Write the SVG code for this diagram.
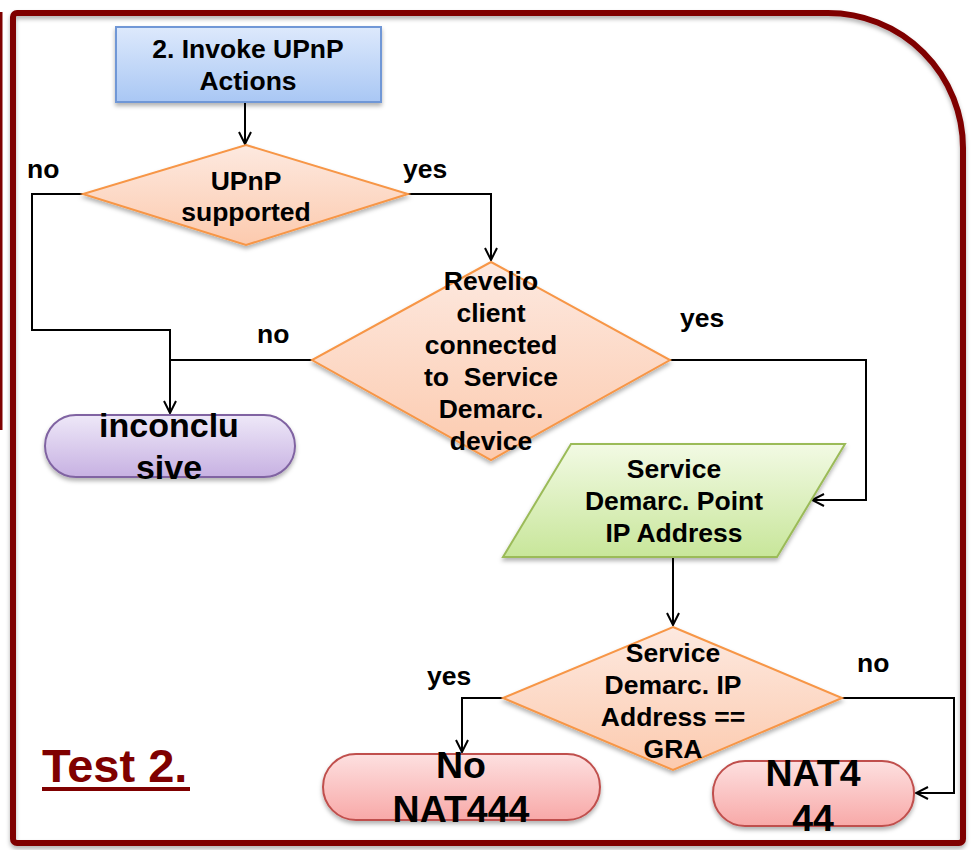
<svg xmlns="http://www.w3.org/2000/svg" width="974" height="850" viewBox="0 0 974 850">
<defs>
<style>
.t{font-family:"Liberation Sans",Arial,Helvetica,sans-serif;font-weight:bold;fill:#000;}
.s26{font-size:26.5px;}
.big{font-size:37.5px;}
.c{text-anchor:middle;}
.conn{fill:none;stroke:#000;stroke-width:2;}
.dia{fill:url(#gOrange);stroke:#f79646;stroke-width:2;}
</style>
<linearGradient id="gBlue" x1="0" y1="0" x2="0" y2="1"><stop offset="0" stop-color="#dde9fc"/><stop offset="1" stop-color="#a9c7f4"/></linearGradient>
<linearGradient id="gOrange" x1="0" y1="0" x2="0" y2="1"><stop offset="0" stop-color="#fde9e0"/><stop offset="1" stop-color="#fccaae"/></linearGradient>
<linearGradient id="gGreen" x1="0" y1="0" x2="0" y2="1"><stop offset="0" stop-color="#f2fae4"/><stop offset="1" stop-color="#c8e69a"/></linearGradient>
<linearGradient id="gPurple" x1="0" y1="0" x2="0" y2="1"><stop offset="0" stop-color="#eee8f8"/><stop offset="1" stop-color="#c7b1e2"/></linearGradient>
<linearGradient id="gRed" x1="0" y1="0" x2="0" y2="1"><stop offset="0" stop-color="#fde0e0"/><stop offset="1" stop-color="#f8a9a8"/></linearGradient>
<filter id="sh" x="-10%" y="-10%" width="120%" height="130%"><feDropShadow dx="0" dy="3" stdDeviation="2" flood-color="#000" flood-opacity="0.3"/></filter>
<marker id="arr" viewBox="0 0 14 14" refX="13" refY="7" markerWidth="14" markerHeight="14" markerUnits="userSpaceOnUse" orient="auto">
<path d="M1,1 L13,7 L1,13" fill="none" stroke="#000" stroke-width="2"/>
</marker>
</defs>
<rect x="0" y="0" width="974" height="850" fill="#fff"/>
<g id="frame">
<line x1="1" y1="12" x2="1" y2="430" stroke="#7f0000" stroke-width="3"/>
<path d="M17,13 H828 A135,135 0 0 1 963,148 V839 A4,4 0 0 1 959,843 H17 A4,4 0 0 1 13,839 V17 A4,4 0 0 1 17,13 Z" fill="none" stroke="#7f0000" stroke-width="6" filter="url(#sh)"/>
</g>
<g id="connectors">
<path class="conn" d="M245,102 V144" marker-end="url(#arr)"/>
<path class="conn" d="M408,194 H491 V260" marker-end="url(#arr)"/>
<path class="conn" d="M83,194 H32 V330 H170 V413" marker-end="url(#arr)"/>
<path class="conn" d="M312,360 H170"/>
<path class="conn" d="M670,360 H866 V500 H812" marker-end="url(#arr)"/>
<path class="conn" d="M673,557 V625" marker-end="url(#arr)"/>
<path class="conn" d="M842,698 H954 V793 H916" marker-end="url(#arr)"/>
<path class="conn" d="M503,698 H462 V752" marker-end="url(#arr)"/>
</g>
<g id="labels">
<text class="t s26" x="27" y="178">no</text>
<text class="t s26" x="403" y="178">yes</text>
<text class="t s26" x="257" y="343">no</text>
<text class="t s26" x="680" y="327">yes</text>
<text class="t s26" x="427" y="685">yes</text>
<text class="t s26" x="857" y="672">no</text>
</g>
<g id="invoke">
<rect x="116" y="27" width="265" height="75" fill="url(#gBlue)" stroke="#6f97d6" stroke-width="2" filter="url(#sh)"/>
<text class="t s26 c" x="248" y="58">2. Invoke UPnP</text>
<text class="t s26 c" x="248" y="90">Actions</text>
</g>
<g id="upnp">
<polygon class="dia" points="246,145 408,194 246,245 83,194" filter="url(#sh)"/>
<text class="t s26 c" x="246" y="190">UPnP</text>
<text class="t s26 c" x="246" y="221">supported</text>
</g>
<g id="revelio">
<polygon class="dia" points="491,262 670,360 491,460 312,360" filter="url(#sh)"/>
<text class="t s26 c" x="491" y="290">Revelio</text>
<text class="t s26 c" x="491" y="322">client</text>
<text class="t s26 c" x="491" y="354">connected</text>
<text class="t s26 c" x="491" y="386" xml:space="preserve">to  Service</text>
<text class="t s26 c" x="491" y="418">Demarc.</text>
<text class="t s26 c" x="491" y="450">device</text>
</g>
<g id="inconclusive">
<rect x="45" y="415" width="250" height="62" rx="31" fill="url(#gPurple)" stroke="#8064a2" stroke-width="2" filter="url(#sh)"/>
<text class="t c" style="font-size:34px" x="169" y="437">inconclu</text>
<text class="t c" style="font-size:34px" x="169" y="479">sive</text>
</g>
<g id="demarc">
<polygon points="571,444 845,444 777,557 503,557" fill="url(#gGreen)" stroke="#9bbb59" stroke-width="2" filter="url(#sh)"/>
<text class="t s26 c" x="674" y="478">Service</text>
<text class="t s26 c" x="674" y="510">Demarc. Point</text>
<text class="t s26 c" x="674" y="542">IP Address</text>
</g>
<g id="gra">
<polygon class="dia" points="673,627 842,698 673,770 503,698" filter="url(#sh)"/>
<text class="t s26 c" x="673" y="662">Service</text>
<text class="t s26 c" x="673" y="694">Demarc. IP</text>
<text class="t s26 c" x="673" y="726">Address ==</text>
<text class="t s26 c" x="673" y="758">GRA</text>
</g>
<g id="nonat">
<rect x="323" y="754" width="277" height="66" rx="33" fill="url(#gRed)" stroke="#c0504d" stroke-width="2" filter="url(#sh)"/>
<text class="t big c" x="461" y="778">No</text>
<text class="t big c" x="461" y="822">NAT444</text>
</g>
<g id="nat">
<rect x="713" y="761" width="201" height="65" rx="32" fill="url(#gRed)" stroke="#c0504d" stroke-width="2" filter="url(#sh)"/>
<text class="t big c" x="813" y="786">NAT4</text>
<text class="t big c" x="813" y="831">44</text>
</g>
<g id="title">
<text class="t" style="font-size:47px;fill:#7f0000" x="42" y="782">Test 2.</text>
<rect x="42" y="787" width="148" height="4" fill="#7f0000"/>
</g>
</svg>
